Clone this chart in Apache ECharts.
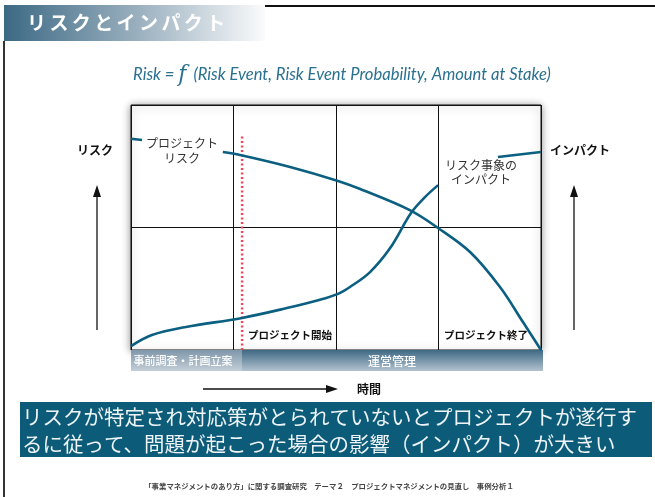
<!DOCTYPE html>
<html><head><meta charset="utf-8">
<script src="https://cdn.jsdelivr.net/npm/echarts@6/dist/echarts.min.js"></script>
<style>html,body{margin:0;padding:0;background:#fff}#c{width:655px;height:497px}</style>
</head><body><div id="c"></div>
<script>
// ---- data ----
const titleText = 'リスクとインパクト';
const formulaLead = 'Risk = ';
const formulaF = 'f';
const formulaTail = ' (Risk Event, Risk Event Probability, Amount at Stake)';
const leftAxisName = 'リスク';
const rightAxisName = 'インパクト';
const timeName = '時間';
const riskLabel = ['プロジェクト', 'リスク'];
const impactLabel = ['リスク事象の', 'インパクト'];
const milestoneLabels = ['プロジェクト開始', 'プロジェクト終了'];
const phaseLabels = ['事前調査・計画立案', '運営管理'];
const messageLines = ['リスクが特定され対応策がとられていないとプロジェクトが遂行す', 'るに従って、問題が起こった場合の影響（インパクト）が大きい'];
const footerText = '「事業マネジメントのあり方」に関する調査研究　テーマ２　プロジェクトマネジメントの見直し　事例分析１';

// time (0-100) vs level (0-100)
const riskLead = [[0, 86.2], [2.7, 85.7]];
const riskCurve = [[22.4, 80.8], [26.6, 79.6], [38.8, 74.7], [50.5, 69.0], [55.9, 65.7], [68.0, 57.1], [74.9, 49.8], [82.7, 40.0], [90.0, 25.7], [95.6, 11.4], [100, 0]];
const impactCurve = [[0, 1.6], [5.1, 6.1], [13.4, 9.4], [27.1, 13.1], [38.0, 17.1], [45.9, 20.4], [50.5, 22.9], [53.4, 25.7], [58.3, 31.8], [63.2, 41.6], [68.3, 55.9], [71.7, 62.4], [74.9, 67.3]];
const impactTail = [[89.5, 78.8], [100, 80.8]];
const projectStart = [[27.1, 0], [27.1, 87.8]];

// ---- chart ----
const chart = echarts.init(document.getElementById('c'), null, {renderer: 'canvas'});
const JP = '"Noto Sans CJK JP", sans-serif';
const curveColor = '#0b5f80';

const graphics = [];
// frame lines
graphics.push({type: 'line', z: 1, shape: {x1: 265, y1: 6, x2: 655, y2: 6}, style: {stroke: '#111', lineWidth: 2}});
graphics.push({type: 'line', z: 1, shape: {x1: 4, y1: 41, x2: 4, y2: 497}, style: {stroke: '#333', lineWidth: 2}});
// title bar
graphics.push({type: 'rect', z: 1, shape: {x: 4, y: 5, width: 261, height: 36},
  style: {fill: new echarts.graphic.LinearGradient(0, 0, 1, 0, [{offset: 0, color: '#3c6984'}, {offset: 0.5, color: '#98aebd'}, {offset: 1, color: '#fafbfc'}])}});
Array.from(titleText).forEach((ch, i) => {
  graphics.push({type: 'text', z: 2, x: 27 + i * 22.4, y: 23,
    style: {text: ch, fill: '#fff', font: 'bold 19px ' + JP, textVerticalAlign: 'middle'}});
});
// formula
graphics.push({type: 'text', z: 2, x: 342, y: 75,
  style: {text: '{a|' + formulaLead + '}{f|' + formulaF + '}{a|' + formulaTail + '}', align: 'center', verticalAlign: 'middle',
    rich: {a: {fontFamily: 'Lato', fontStyle: 'italic', fontSize: 16.6, fill: '#2a7090', color: '#2a7090'},
           f: {fontFamily: '"DejaVu Serif"', fontStyle: 'italic', fontSize: 22, fill: '#2a7090', color: '#2a7090', padding: [0, 3, 0, 0]}}}});
// axis names & arrows
graphics.push({type: 'text', z: 2, x: 95, y: 150, style: {text: leftAxisName, fill: '#111', font: 'bold 12px ' + JP, align: 'center', verticalAlign: 'middle'}});
graphics.push({type: 'text', z: 2, x: 580, y: 150, style: {text: rightAxisName, fill: '#111', font: 'bold 12px ' + JP, align: 'center', verticalAlign: 'middle'}});
[97, 574].forEach(x => {
  graphics.push({type: 'line', z: 2, shape: {x1: x, y1: 330, x2: x, y2: 195}, style: {stroke: '#111', lineWidth: 1.3}});
  graphics.push({type: 'polygon', z: 2, shape: {points: [[x, 185], [x - 4, 197], [x + 4, 197]]}, style: {fill: '#111'}});
});
graphics.push({type: 'line', z: 2, shape: {x1: 203, y1: 389, x2: 328, y2: 389}, style: {stroke: '#111', lineWidth: 1.3}});
graphics.push({type: 'polygon', z: 2, shape: {points: [[338, 389], [326, 385], [326, 393]]}, style: {fill: '#111'}});
graphics.push({type: 'text', z: 2, x: 369, y: 389, style: {text: timeName, fill: '#111', font: 'bold 12px ' + JP, align: 'center', verticalAlign: 'middle'}});
// phase bar
graphics.push({type: 'rect', z: 3, shape: {x: 131, y: 350, width: 111, height: 21},
  style: {fill: new echarts.graphic.LinearGradient(0, 0, 0, 1, [{offset: 0, color: '#7f97aa'}, {offset: 1, color: '#c3ced7'}])}});
graphics.push({type: 'rect', z: 3, shape: {x: 242, y: 350, width: 301, height: 21},
  style: {fill: new echarts.graphic.LinearGradient(0, 0, 0, 1, [{offset: 0, color: '#3f6984'}, {offset: 1, color: '#b2c2cf'}])}});
graphics.push({type: 'text', z: 4, x: 183, y: 361, style: {text: phaseLabels[0], fill: '#fff', font: '500 11px ' + JP, align: 'center', verticalAlign: 'middle'}});
graphics.push({type: 'text', z: 4, x: 392, y: 361, style: {text: phaseLabels[1], fill: '#fff', font: '500 12px ' + JP, align: 'center', verticalAlign: 'middle'}});
// curve labels
riskLabel.forEach((t, i) => graphics.push({type: 'text', z: 4, x: 182, y: 143 + i * 15, style: {text: t, fill: '#333', font: '12px ' + JP, align: 'center', verticalAlign: 'middle'}}));
impactLabel.forEach((t, i) => graphics.push({type: 'text', z: 4, x: 481, y: 165 + i * 14, style: {text: t, fill: '#333', font: '12px ' + JP, align: 'center', verticalAlign: 'middle'}}));
graphics.push({type: 'text', z: 4, x: 290, y: 335, style: {text: milestoneLabels[0], fill: '#111', font: 'bold 10.5px ' + JP, align: 'center', verticalAlign: 'middle'}});
graphics.push({type: 'text', z: 4, x: 486, y: 335, style: {text: milestoneLabels[1], fill: '#111', font: 'bold 10.5px ' + JP, align: 'center', verticalAlign: 'middle'}});
// message box
graphics.push({type: 'rect', z: 2, shape: {x: 20, y: 402, width: 632, height: 55}, style: {fill: '#0c5b78'}});
messageLines.forEach((t, i) => graphics.push({type: 'text', z: 3, x: 22, y: 417 + i * 27,
  style: {text: t, fill: '#eef4f7', font: '20.5px ' + JP, verticalAlign: 'middle'}}));
// footer
graphics.push({type: 'text', z: 2, x: 329, y: 486, style: {text: footerText, fill: '#444', font: 'bold 7.4px ' + JP, align: 'center', verticalAlign: 'middle'}});

const lineSeries = (data, extra) => Object.assign({
  type: 'line', data: data, showSymbol: false, symbol: 'none', smooth: 0.35, z: 5,
  lineStyle: {color: curveColor, width: 2.6}, silent: true, animation: false
}, extra || {});

chart.setOption({
  animation: false,
  grid: {left: 131, top: 105, width: 410, height: 245, show: true, backgroundColor: '#fff',
    borderColor: '#111', borderWidth: 1, shadowBlur: 8, shadowColor: 'rgba(0,0,0,0.45)', shadowOffsetX: 0, shadowOffsetY: 1},
  xAxis: {type: 'value', min: 0, max: 100, interval: 25, axisLabel: {show: false}, axisTick: {show: false},
    axisLine: {show: false}, splitLine: {show: true, lineStyle: {color: '#111', width: 1}}},
  yAxis: {type: 'value', min: 0, max: 100, interval: 50, axisLabel: {show: false}, axisTick: {show: false},
    axisLine: {show: false}, splitLine: {show: true, lineStyle: {color: '#111', width: 1}}},
  graphic: graphics,
  series: [
    lineSeries(projectStart, {smooth: false, z: 4, lineStyle: {color: '#f0455a', width: 2.5, type: [2, 2.5]}}),
    lineSeries(riskLead, {smooth: false}),
    lineSeries(riskCurve),
    lineSeries(impactCurve),
    lineSeries(impactTail, {smooth: false})
  ]
});
</script></body></html>
